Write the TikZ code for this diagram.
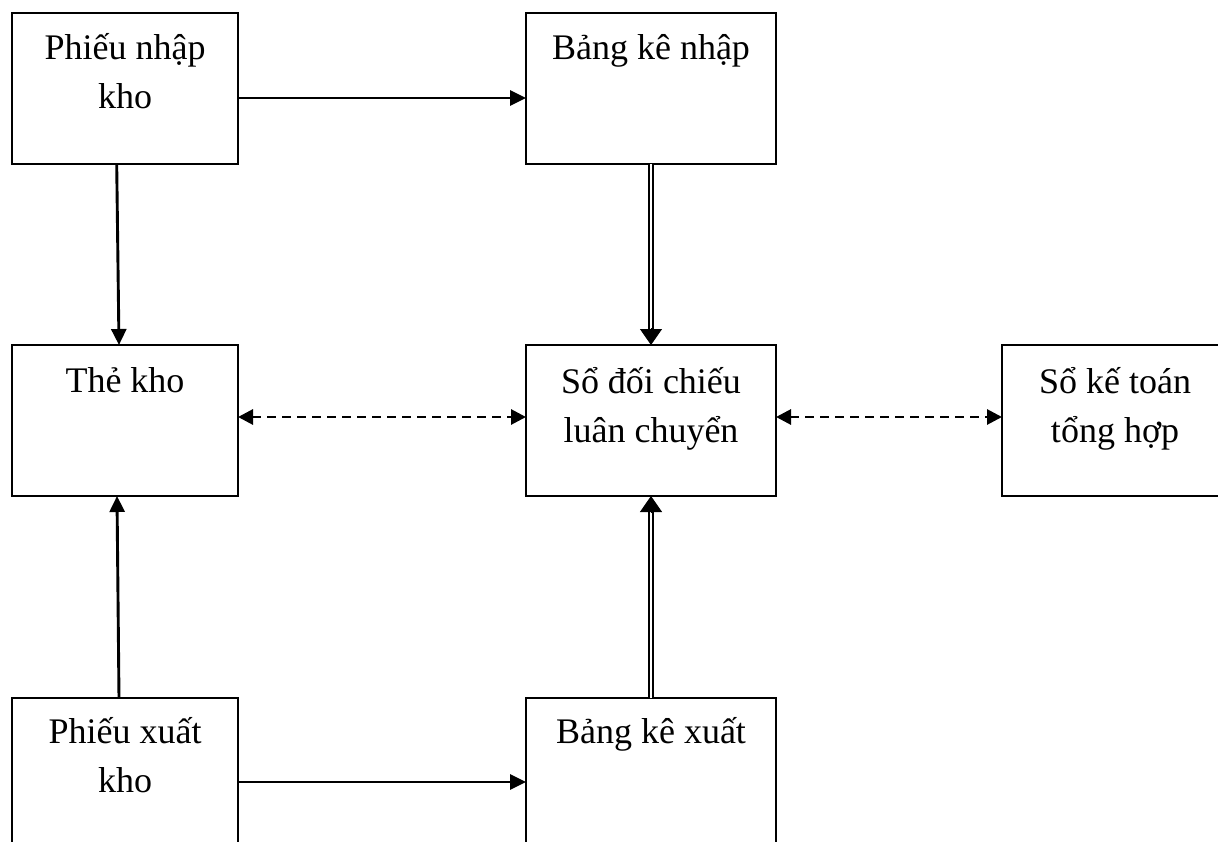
\documentclass[tikz,border=0pt]{standalone}
\usepackage{fontspec}
\setmainfont{Liberation Serif}
\usetikzlibrary{arrows.meta,calc}

\begin{document}
\begin{tikzpicture}[x=1pt,y=-1pt,
  box/.style={draw=black,line width=2.2pt,inner sep=0pt,outer sep=0pt},
  arr/.style={line width=2.9pt,-{Triangle[length=16pt,width=15pt]}},
  dsh/.style={line width=2.9pt,dash pattern=on 9pt off 6pt,
    {Triangle[length=15pt,width=15pt]}-{Triangle[length=15pt,width=15pt]}},
  dbl/.style={line width=1.9pt,double,double distance=2.4pt},
  dtip/.style={line width=1pt,-{Triangle[length=16pt,width=22pt]}}
]
% drawing area
\useasboundingbox (0,0) rectangle (1218,842);
\clip (0,0) rectangle (1218,842);

% box contents: text hangs from the top edge
\newcommand{\boxtext}[3]{\parbox[c][151pt][t]{#1pt}{\centering
  \fontsize{36}{49}\selectfont\rule{0pt}{#2pt}#3}}

\node[box] (pnk) at (125,88.5)   {\boxtext{226}{47}{Phiếu nhập\\kho}};
\node[box] (bkn) at (651,88.5)   {\boxtext{250}{47}{Bảng kê nhập}};
\node[box] (tk)  at (125,420.5)  {\boxtext{226}{47}{Thẻ kho}};
\node[box] (sdc) at (651,420.5)  {\boxtext{250}{48}{Sổ đối chiếu\\luân chuyển}};
\node[box] (skt) at (1115,420.5) {\boxtext{226}{48}{Sổ kế toán\\tổng hợp}};
\node[box] (pxk) at (125,773.5)  {\boxtext{226}{45}{Phiếu xuất\\kho}};
\node[box] (bkx) at (651,773.5)  {\boxtext{250}{45}{Bảng kê xuất}};

% solid connectors
\draw[arr] ([yshift=-9.5pt]pnk.east) -- ([yshift=-9.5pt]bkn.west);
\draw[arr] ([xshift=-8.3pt]pnk.south) -- ([xshift=-6pt]tk.north);
\draw[arr] ([xshift=-6pt]pxk.north) -- ([xshift=-8pt]tk.south);
\draw[arr] ([yshift=-8.5pt]pxk.east) -- ([yshift=-8.5pt]bkx.west);

% double connectors into the reconciliation ledger
\draw[dbl,shorten >=14pt] (bkn.south) -- (sdc.north);
\draw[dtip] ([yshift=17pt]sdc.north) -- (sdc.north);
\draw[dbl,shorten >=14pt] (bkx.north) -- (sdc.south);
\draw[dtip] ([yshift=-17pt]sdc.south) -- (sdc.south);

% dashed two-way connectors
\draw[dsh] ([yshift=3.5pt]tk.east) -- ([yshift=3.5pt]sdc.west);
\draw[dsh] ([yshift=3.5pt]sdc.east) -- ([yshift=3.5pt]skt.west);
\end{tikzpicture}
\end{document}
